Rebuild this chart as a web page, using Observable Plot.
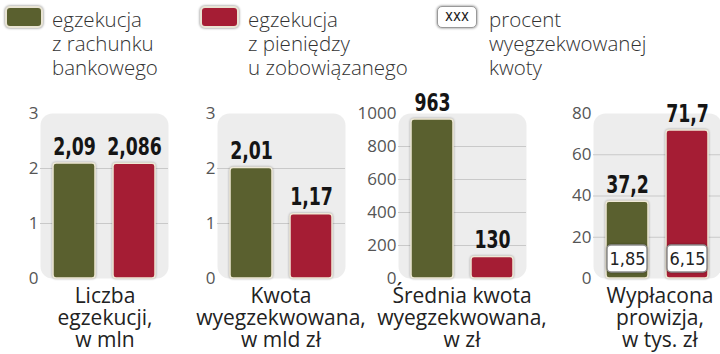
<!DOCTYPE html>
<html><head><meta charset="utf-8">
<script src="https://cdn.jsdelivr.net/npm/d3@7"></script>
<script src="https://cdn.jsdelivr.net/npm/@observablehq/plot@0.6"></script>
<style>
body{margin:0;background:#fff;}
#root{position:relative;width:720px;height:354px;overflow:hidden;font-family:"Open Sans",sans-serif;color:#2b2b2b;}
.sw{position:absolute;border-radius:5px;box-sizing:border-box;border:2px solid #e9e4d4;box-shadow:0 0 2px 1px rgba(0,0,0,0.25);}
.lt{position:absolute;font-size:20.5px;line-height:24px;font-weight:300;color:#333;white-space:nowrap;}
.cat{position:absolute;font-size:21px;line-height:22px;text-align:center;white-space:nowrap;color:#222;transform:translateX(-50%);}
.panel{position:absolute;top:90px;}
.panel g[aria-label="bar"] rect{filter:drop-shadow(0.5px 0.5px 1px rgba(0,0,0,0.35));}
</style></head><body><div id="root"></div>
<script>
// ---- data ----
const seriesKeys = ["bank", "debtor"];
const seriesLabels = [["egzekucja","z rachunku","bankowego"],["egzekucja","z pieniędzy","u zobowiązanego"]];
const seriesColors = ["#5a602f", "#a51d34"];
const percentLegend = ["procent","wyegzekwowanej","kwoty"];
const panelTitles = [["Liczba","egzekucji,","w mln"],["Kwota","wyegzekwowana,","w mld zł"],["Średnia kwota","wyegzekwowana,","w zł"],["Wypłacona","prowizja,","w tys. zł"]];
const bankValues = [2.09, 2.01, 963, 37.2];
const debtorValues = [2.086, 1.17, 130, 71.7];
const yMax = [3, 3, 1000, 80];
const yTicks = [[0,1,2,3],[0,1,2,3],[0,200,400,600,800,1000],[0,20,40,60,80]];
const percentValues = [null, null, null, [1.85, 6.15]];

// ---- layout ----
const plotLeft = [40, 217, 398, 593];
const catCenter = [105, 281, 462, 660];
const fmt = v => String(v).replace(".", ",");
const narrow = "'DejaVu Sans Condensed',sans-serif";

const root = document.getElementById("root");

function addSwatch(x, y, w, h, color){
  const d = document.createElement("div");
  d.className = "sw";
  Object.assign(d.style, {left:x+"px", top:y+"px", width:w+"px", height:h+"px", background:color});
  root.appendChild(d); return d;
}
function addText(cls, x, y, lines){
  const d = document.createElement("div");
  d.className = cls;
  d.style.left = x+"px"; d.style.top = y+"px";
  d.innerHTML = lines.join("<br>");
  root.appendChild(d); return d;
}
function squeeze(group, factor){
  if (!group) return;
  group.querySelectorAll("text").forEach(t => {
    const tr = t.getAttribute("transform");
    if (tr) {
      t.setAttribute("transform", tr + ` scale(${factor},1)`);
    } else {
      const L = t.getComputedTextLength();
      t.setAttribute("textLength", (L * factor).toFixed(1));
      t.setAttribute("lengthAdjust", "spacingAndGlyphs");
    }
  });
}

// legend
addSwatch(5, 6, 38, 22, seriesColors[0]);
addText("lt", 52, 7, seriesLabels[0]);
addSwatch(200, 6, 39, 22, seriesColors[1]);
addText("lt", 248, 7, seriesLabels[1]);
const xb = addSwatch(437, 6, 40, 22, "#fff");
xb.style.border = "1.5px solid #999";
xb.style.font = "15px " + narrow;
xb.style.textAlign = "center"; xb.style.lineHeight = "19px"; xb.style.color="#222";
xb.textContent = "xxx";
addText("lt", 489, 7, percentLegend);

// panels
for (let i = 0; i < 4; i++) {
  const data = seriesKeys.map((k, j) => ({k, v: j === 0 ? bankValues[i] : debtorValues[i]}));
  const marks = [
    Plot.frame({fill: "#ededed", rx: 12}),
    Plot.ruleY(yTicks[i].filter(t => t > 0 && t < yMax[i]), {stroke: "#c9c9c9", strokeWidth: 1}),
    Plot.axisY({ticks: yTicks[i], tickSize: 0, tickPadding: 2, fontSize: 17, label: null, tickFormat: d => String(d)}),
    Plot.barY(data, {x: "k", y: "v", fill: "k", stroke: "#efe9d6", strokeWidth: 1.5, rx: 3}),
    Plot.text(data, {x: "k", y: "v", text: d => fmt(d.v), dy: -9, lineAnchor: "bottom",
      fontSize: 25, fontWeight: "bold", fontFamily: narrow, fill: "#151515"})
  ];
  if (percentValues[i]) {
    const pd = seriesKeys.map((k, j) => ({k, p: percentValues[i][j]}));
    marks.push(
      Plot.barY(pd, {x: "k", y1: 0, y2: 0, insetTop: -33, insetBottom: 6, insetLeft: 1, insetRight: 1,
        fill: "#fff", stroke: "#8d8d8d", strokeWidth: 1.5, rx: 4}),
      Plot.text(pd, {x: "k", y: 0, text: d => fmt(d.p), dy: -19.5, fontSize: 18, fontFamily: narrow, fill: "#222"})
    );
  }
  const svg = Plot.plot({
    width: 180, height: 200,
    marginLeft: 40, marginRight: 12, marginTop: 23, marginBottom: 12,
    style: {fontFamily: "'Open Sans',sans-serif", color: "#555", background: "transparent", overflow: "visible"},
    x: {domain: seriesKeys, paddingInner: 0.3, paddingOuter: 0.2, axis: null},
    y: {domain: [0, yMax[i]], axis: null},
    color: {domain: seriesKeys, range: seriesColors},
    marks
  });
  svg.classList.add("panel");
  svg.style.left = (plotLeft[i] - 40) + "px";
  svg.style.position = "absolute";
  svg.style.top = "90px";
  root.appendChild(svg);
  squeeze(svg.querySelectorAll('g[aria-label="text"]')[0], 0.77);
  addText("cat", catCenter[i], 284, panelTitles[i]);
}
</script></body></html>
